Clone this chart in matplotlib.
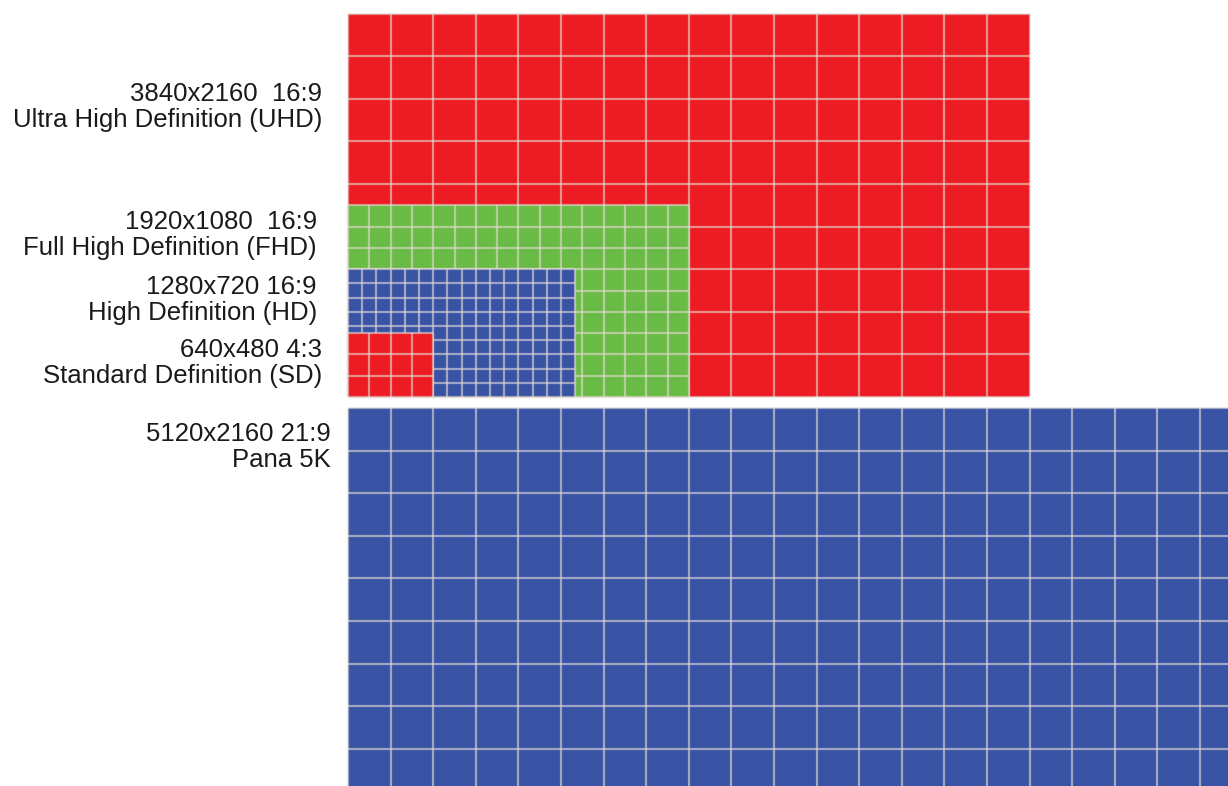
import matplotlib.pyplot as plt
from matplotlib.patches import Rectangle

plt.rcParams['font.family'] = ['Liberation Sans', 'DejaVu Sans']

# label text of each format
names = ['Pana 5K', 'Ultra High Definition (UHD)', 'Full High Definition (FHD)',
         'High Definition (HD)', 'Standard Definition (SD)']
res_text = ['5120x2160 21:9', '3840x2160  16:9', '1920x1080  16:9',
            '1280x720 16:9', '640x480 4:3']
# size of each block as drawn in the picture (pixel units)
widths = [5120, 3840, 1920, 1280, 480]
heights = [2160, 2160, 1080, 720, 360]
cells = [240, 240, 120, 80, 120]
colors = ['#3953a4', '#ed1c24', '#6abb45', '#3953a4', '#ed1c24']

# 5K block sits below the others
bottoms = [-62 - 2160, 0, 0, 0, 0]
label_x = [-96, -146, -175, -175, -146]
label_y = [-282, 1634, 913, 546, 191]

s = 0.1775  # picture px per unit
fig = plt.figure(figsize=(12.28, 7.86), dpi=100)
ax = fig.add_axes([0, 0, 1, 1])
ax.set_xlim(-348 / s, 880 / s)
ax.set_ylim(-389 / s, 397 / s)
ax.axis('off')

for i in range(len(names)):
    w, h, c, b = widths[i], heights[i], cells[i], bottoms[i]
    z = 2 * i + 1
    ax.add_patch(Rectangle((0, b), w, h, facecolor=colors[i], edgecolor='none', zorder=z))
    xs = [k * c for k in range(int(w / c) + 1)]
    ys = [b + k * c for k in range(int(h / c) + 1)]
    ax.vlines(xs, b, b + h, colors='#e4dcd4', alpha=0.6, lw=1.6, zorder=z + 0.5)
    ax.hlines(ys, 0, w, colors='#e4dcd4', alpha=0.6, lw=1.6, zorder=z + 0.5)
    ax.text(label_x[i], label_y[i], res_text[i] + '\n' + names[i],
            ha='right', va='center', multialignment='right',
            fontsize=18.5, color='#1a1a1a', linespacing=1.1)

fig.savefig('out.png', dpi=100)
